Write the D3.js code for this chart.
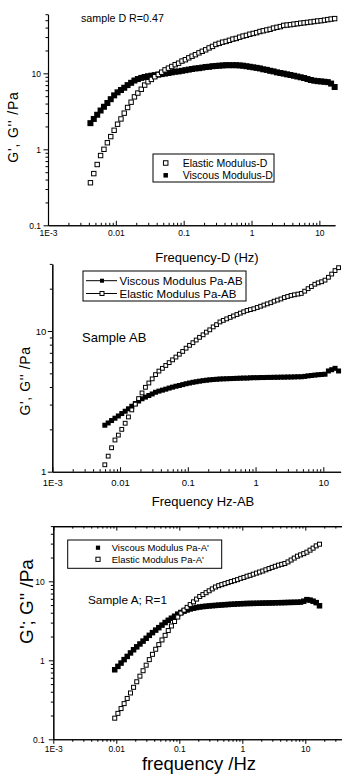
<!DOCTYPE html>
<html>
<head>
<meta charset="utf-8">
<script src="https://cdn.jsdelivr.net/npm/d3@7/dist/d3.min.js"></script>
<style>
  html, body { margin: 0; padding: 0; background: #fff; }
  svg { display: block; font-family: "Liberation Sans", Arial, sans-serif; }
</style>
</head>
<body>
<div id="chart"></div>
<script>
// ---- tick labels ----
const xTickValues = [0.001, 0.01, 0.1, 1, 10];
const xTickLabels = ['1E-3', '0.01', '0.1', '1', '10'];
const yTickValuesD = [0.1, 1, 10];
const yTickLabelsD = ['0.1', '1', '10'];
const yTickValuesAB = [1, 10];
const yTickLabelsAB = ['1', '10'];
const yTickValuesA = [0.1, 1, 10];
const yTickLabelsA = ['0.1', '1', '10'];

// ---- sample D ----
const freqD = [0.00422, 0.00473, 0.00531, 0.00596, 0.00668, 0.0075, 0.00841, 0.00944,
  0.0106, 0.0119, 0.0133, 0.0149, 0.0168, 0.0188, 0.0211, 0.0237, 0.0266, 0.0298, 0.0334, 0.0375, 0.0422, 0.0473, 0.0531, 0.0596, 0.0668, 0.075, 0.0841, 0.0944,
  0.106, 0.119, 0.133, 0.149, 0.168, 0.188, 0.211, 0.237, 0.266, 0.298, 0.334, 0.375, 0.422, 0.473, 0.531, 0.596, 0.668, 0.75, 0.841, 0.944,
  1.06, 1.19, 1.33, 1.49, 1.68, 1.88, 2.11, 2.37, 2.66, 2.98, 3.34, 3.75, 4.22, 4.73, 5.31, 5.96, 6.68, 7.5, 8.41, 9.44,
  10.6, 11.9, 13.3, 14.9, 16.8];
const elasticD = [0.363, 0.479, 0.631, 0.828, 1.0, 1.22, 1.47, 1.78,
  2.14, 2.51, 2.99, 3.55, 4.17, 4.90, 5.50, 6.17, 7.00, 7.76, 8.32, 9.02, 9.66, 10.35, 11.1, 11.7, 12.3, 13.0, 13.6, 14.5,
  15.1, 16.0, 16.8, 17.6, 18.6, 19.5, 20.4, 21.6, 22.6, 24.0, 24.8, 25.7, 26.3, 27.2, 28.2, 28.8, 29.9, 30.9, 31.6, 32.7,
  33.5, 34.3, 35.5, 36.3, 37.2, 38.0, 39.4, 40.3, 41.2, 42.7, 43.2, 43.7, 44.4, 45.0, 45.7, 46.2, 46.8, 47.4, 48.1, 48.8,
  49.3, 50.1, 50.9, 51.8, 52.5];
const viscousD = [2.21, 2.51, 2.85, 3.24, 3.63, 4.07, 4.57, 5.13,
  5.62, 6.03, 6.46, 7.00, 7.50, 8.04, 8.41, 8.71, 8.95, 9.16, 9.31, 9.46, 9.62, 9.77, 9.93, 10.1, 10.3, 10.5, 10.6, 10.8,
  11.0, 11.2, 11.4, 11.6, 11.7, 11.9, 12.1, 12.2, 12.4, 12.5, 12.6, 12.7, 12.8, 12.8, 12.8, 12.8, 12.7, 12.6, 12.4, 12.2,
  12.0, 11.8, 11.6, 11.3, 11.1, 10.8, 10.6, 10.3, 10.1, 9.91, 9.70, 9.51, 9.29, 9.08, 8.87, 8.67, 8.41, 8.17, 8.00, 7.89,
  7.82, 7.74, 7.66, 7.33, 6.61];

// ---- sample AB ----
const freqAB = [0.00596, 0.00668, 0.0075, 0.00841, 0.00944,
  0.0106, 0.0119, 0.0133, 0.0149, 0.0168, 0.0188, 0.0211, 0.0237, 0.0266, 0.0298, 0.0334, 0.0375, 0.0422, 0.0473, 0.0531, 0.0596, 0.0668, 0.075, 0.0841, 0.0944,
  0.106, 0.119, 0.133, 0.149, 0.168, 0.188, 0.211, 0.237, 0.266, 0.298, 0.334, 0.375, 0.422, 0.473, 0.531, 0.596, 0.668, 0.75, 0.841, 0.944,
  1.06, 1.19, 1.33, 1.49, 1.68, 1.88, 2.11, 2.37, 2.66, 2.98, 3.34, 3.75, 4.22, 4.73, 5.31, 5.96, 6.68, 7.5, 8.41, 9.44,
  10.6, 11.9, 13.3, 14.9, 16.8];
const elasticAB = [1.12, 1.29, 1.48, 1.68, 1.82,
  2.00, 2.21, 2.45, 2.75, 3.02, 3.31, 3.63, 3.98, 4.27, 4.57, 4.90, 5.19, 5.43, 5.69, 5.96, 6.24, 6.53, 6.84, 7.16, 7.55,
  7.91, 8.26, 8.63, 9.02, 9.40, 9.82, 10.2, 10.7, 11.1, 11.6, 11.9, 12.2, 12.5, 12.8, 13.1, 13.4, 13.7, 14.0, 14.2, 14.4,
  14.7, 15.0, 15.3, 15.6, 15.9, 16.3, 16.6, 16.9, 17.3, 17.6, 17.9, 18.1, 18.3, 18.5, 19.2, 20.0, 20.7, 21.5, 22.0, 22.4,
  23.0, 24.1, 25.4, 26.9, 28.2];
const viscousAB = [2.14, 2.22, 2.31, 2.40, 2.49,
  2.59, 2.69, 2.80, 2.92, 3.05, 3.18, 3.30, 3.39, 3.48, 3.57, 3.67, 3.74, 3.80, 3.86, 3.93, 3.99, 4.05, 4.10, 4.16, 4.22,
  4.27, 4.32, 4.36, 4.40, 4.44, 4.47, 4.50, 4.52, 4.54, 4.56, 4.57, 4.58, 4.59, 4.60, 4.61, 4.62, 4.63, 4.63, 4.65, 4.66,
  4.66, 4.67, 4.67, 4.68, 4.68, 4.69, 4.69, 4.70, 4.70, 4.71, 4.71, 4.72, 4.73, 4.73, 4.76, 4.80, 4.83, 4.86, 4.89, 4.91,
  4.93, 5.20, 5.31, 5.43, 5.20];

// ---- sample A ----
const freqA = [0.00944,
  0.0106, 0.0119, 0.0133, 0.0149, 0.0168, 0.0188, 0.0211, 0.0237, 0.0266, 0.0298, 0.0334, 0.0375, 0.0422, 0.0473, 0.0531, 0.0596, 0.0668, 0.075, 0.0841, 0.0944,
  0.106, 0.119, 0.133, 0.149, 0.168, 0.188, 0.211, 0.237, 0.266, 0.298, 0.334, 0.375, 0.422, 0.473, 0.531, 0.596, 0.668, 0.75, 0.841, 0.944,
  1.06, 1.19, 1.33, 1.49, 1.68, 1.88, 2.11, 2.37, 2.66, 2.98, 3.34, 3.75, 4.22, 4.73, 5.31, 5.96, 6.68, 7.5, 8.41, 9.44,
  10.6, 11.9, 13.3, 14.9, 16.8];
const elasticA = [0.185,
  0.213, 0.245, 0.283, 0.329, 0.386, 0.455, 0.535, 0.630, 0.738, 0.867, 1.02, 1.19, 1.38, 1.58, 1.81, 2.07, 2.38, 2.72, 3.10, 3.53,
  3.96, 4.32, 4.68, 5.07, 5.50, 5.96, 6.43, 6.79, 7.18, 7.59, 8.02, 8.47, 8.81, 9.08, 9.35, 9.64, 9.93, 10.2, 10.5, 10.9,
  11.2, 11.6, 11.9, 12.3, 12.7, 13.1, 13.5, 14.0, 14.5, 15.0, 15.5, 16.0, 16.4, 16.8, 17.6, 18.6, 19.7, 20.8, 21.6, 22.4,
  23.4, 24.8, 26.3, 28.1, 29.5];
const viscousA = [0.759,
  0.838, 0.923, 1.02, 1.12, 1.24, 1.36, 1.48, 1.61, 1.75, 1.90, 2.07, 2.24, 2.41, 2.59, 2.79, 3.01, 3.21, 3.41, 3.61, 3.84,
  4.03, 4.19, 4.34, 4.47, 4.57, 4.66, 4.73, 4.79, 4.83, 4.88, 4.92, 4.95, 4.99, 5.02, 5.06, 5.09, 5.12, 5.14, 5.18, 5.20,
  5.22, 5.24, 5.25, 5.26, 5.27, 5.28, 5.30, 5.31, 5.32, 5.33, 5.35, 5.36, 5.37, 5.38, 5.40, 5.41, 5.42, 5.43, 5.46, 5.60,
  5.86, 5.78, 5.60, 5.37, 4.90];

const svg = d3.select('#chart').append('svg')
  .attr('width', 342)
  .attr('height', 784);

const isDecade = v => Math.abs(Math.log10(v) - Math.round(Math.log10(v))) < 1e-6;

function drawPanel(p) {
  const x = d3.scaleLog().domain(p.xDomain).range(p.xRange);
  const y = d3.scaleLog().domain(p.yDomain).range(p.yRange);
  const g = svg.append('g');
  const yBottom = p.yRange[0];

  const xMinor = x.ticks().filter(v => !isDecade(v));
  const yMinor = y.ticks().filter(v => !isDecade(v));

  // x axis
  const xAxisG = g.append('g').attr('transform', `translate(0,${yBottom})`);
  xAxisG.append('g')
    .call(d3.axisBottom(x).tickValues(xMinor).tickFormat('').tickSizeInner(p.xTickDir * 2.5).tickSizeOuter(0));
  xAxisG.append('g')
    .call(d3.axisBottom(x).tickValues(xTickValues).tickFormat((d, i) => xTickLabels[i])
      .tickSizeInner(p.xTickDir * 4.5).tickSizeOuter(0).tickPadding(p.xPad));

  // top axis (only for the last panel)
  if (p.topAxis) {
    const top = g.append('g').attr('transform', `translate(0,${p.yRange[1]})`);
    top.append('g').call(d3.axisTop(x).tickValues(xMinor).tickFormat('').tickSizeInner(-2.5).tickSizeOuter(0));
    top.append('g').call(d3.axisTop(x).tickValues(xTickValues).tickFormat('').tickSizeInner(-4.5).tickSizeOuter(0));
  }

  // y axis
  const yAxisG = g.append('g').attr('transform', `translate(${p.xRange[0]},0)`);
  yAxisG.append('g')
    .call(d3.axisLeft(y).tickValues(yMinor).tickFormat('').tickSizeInner(2.5).tickSizeOuter(0));
  yAxisG.append('g')
    .call(d3.axisLeft(y).tickValues(p.yTicks).tickFormat((d, i) => p.yLabels[i])
      .tickSizeInner(4.5).tickSizeOuter(0).tickPadding(p.yPad));

  g.selectAll('.domain').attr('stroke', '#000').attr('stroke-width', 1.1);
  g.selectAll('.tick line').attr('stroke', '#000');
  g.selectAll('.tick text')
    .attr('font-family', '"Liberation Sans", Arial, sans-serif')
    .attr('font-size', p.tickFont)
    .attr('fill', '#000');

  // axis titles
  g.append('text')
    .attr('x', p.xTitle.x).attr('y', p.xTitle.y)
    .attr('text-anchor', 'middle')
    .attr('font-size', p.xTitle.size)
    .text(p.xTitle.text);
  g.append('text')
    .attr('transform', `translate(${p.yTitle.x},${p.yTitle.y}) rotate(-90)`)
    .attr('text-anchor', 'middle')
    .attr('font-size', p.yTitle.size)
    .attr('letter-spacing', p.yTitle.spacing || 0)
    .text(p.yTitle.text);

  // annotation
  g.append('text')
    .attr('x', p.note.x).attr('y', p.note.y)
    .attr('font-size', p.note.size)
    .text(p.note.text);

  // data: viscous (filled) first, elastic (open) on top
  const s = p.markerSize;
  const fs = p.filledSize;
  const viscousPts = p.freq.map((f, i) => [f, p.viscous[i]]);
  const elasticPts = p.freq.map((f, i) => [f, p.elastic[i]]);

  g.append('g').selectAll('rect')
    .data(viscousPts)
    .join('rect')
    .attr('x', d => x(d[0]) - fs / 2)
    .attr('y', d => y(d[1]) - fs / 2)
    .attr('width', fs)
    .attr('height', fs)
    .attr('fill', '#000');

  g.append('g').selectAll('rect')
    .data(elasticPts)
    .join('rect')
    .attr('x', d => x(d[0]) - s / 2)
    .attr('y', d => y(d[1]) - s / 2)
    .attr('width', s)
    .attr('height', s)
    .attr('fill', '#fff')
    .attr('stroke', '#000')
    .attr('stroke-width', 1);

  // legend
  const L = p.legend;
  g.append('rect')
    .attr('x', L.x).attr('y', L.y)
    .attr('width', L.w).attr('height', L.h)
    .attr('fill', '#fff').attr('stroke', '#000').attr('stroke-width', 1);
  L.items.forEach((it, i) => {
    const cy = L.rowY[i];
    if (L.lines) {
      g.append('line')
        .attr('x1', L.lineX[0]).attr('x2', L.lineX[1])
        .attr('y1', cy).attr('y2', cy)
        .attr('stroke', '#000').attr('stroke-width', 1);
    }
    const ms = L.markerSize;
    g.append('rect')
      .attr('x', L.markerX - ms / 2).attr('y', cy - ms / 2)
      .attr('width', ms).attr('height', ms)
      .attr('fill', it.filled ? '#000' : '#fff')
      .attr('stroke', '#000').attr('stroke-width', it.filled ? 0 : 1);
    g.append('text')
      .attr('x', L.textX).attr('y', cy)
      .attr('dy', '0.35em')
      .attr('font-size', L.size)
      .text(it.label);
  });
}

drawPanel({
  freq: freqD, elastic: elasticD, viscous: viscousD,
  xDomain: [0.001, 17], xRange: [48, 335],
  yDomain: [0.1, 60], yRange: [225.3, 14.2],
  yTicks: yTickValuesD, yLabels: yTickLabelsD,
  xTickDir: -1, xPad: 5, yPad: 2.5, tickFont: 8.5,
  markerSize: 4.4, filledSize: 6,
  xTitle: { text: 'Frequency-D (Hz)', x: 207, y: 262, size: 13 },
  yTitle: { text: "G', G'' /Pa", x: 18, y: 127, size: 14, spacing: 0.8 },
  note: { text: 'sample D R=0.47', x: 81, y: 22, size: 10.7 },
  legend: {
    x: 153, y: 154, w: 121, h: 28, size: 10.5,
    markerX: 165.7, markerSize: 4.5, textX: 182.7, rowY: [163, 175.3],
    items: [{ label: 'Elastic Modulus-D', filled: false }, { label: 'Viscous Modulus-D', filled: true }]
  }
});

drawPanel({
  freq: freqAB, elastic: elasticAB, viscous: viscousAB,
  xDomain: [0.001, 18], xRange: [52.3, 340.6],
  yDomain: [1, 30], yRange: [471.7, 263.9],
  yTicks: yTickValuesAB, yLabels: yTickLabelsAB,
  xTickDir: -1, xPad: 7.5, yPad: 1.5, tickFont: 9.5,
  markerSize: 3.8, filledSize: 5,
  xTitle: { text: 'Frequency Hz-AB', x: 203, y: 505.5, size: 13 },
  yTitle: { text: "G', G'' /Pa", x: 30, y: 381, size: 14, spacing: 0.6 },
  note: { text: 'Sample AB', x: 82, y: 341.5, size: 13 },
  legend: {
    x: 83, y: 271, w: 163, h: 30, size: 11.5, lines: true, lineX: [86, 117],
    markerX: 102, markerSize: 4, textX: 119.5, rowY: [280.7, 293.5],
    items: [{ label: 'Viscous Modulus Pa-AB', filled: true }, { label: 'Elastic Modulus Pa-AB', filled: false }]
  }
});

drawPanel({
  freq: freqA, elastic: elasticA, viscous: viscousA,
  xDomain: [0.001, 100], xRange: [53.3, 368.3],
  yDomain: [0.1, 50], yRange: [739.3, 526.1],
  yTicks: yTickValuesA, yLabels: yTickLabelsA,
  xTickDir: 1, xPad: 2.5, yPad: 4, tickFont: 8.5,
  markerSize: 4, filledSize: 5.5, topAxis: true,
  xTitle: { text: 'frequency /Hz', x: 199, y: 770, size: 18.5 },
  yTitle: { text: "G'; G'' /Pa", x: 33, y: 601.5, size: 19 },
  note: { text: 'Sample A; R=1', x: 88, y: 604, size: 11.8 },
  legend: {
    x: 67.7, y: 540, w: 154, h: 28.3, size: 9.5,
    markerX: 98, markerSize: 4.2, textX: 111.7, rowY: [547.7, 559.3],
    items: [{ label: "Viscous Modulus Pa-A'", filled: true }, { label: "Elastic Modulus Pa-A'", filled: false }]
  }
});
</script>
</body>
</html>
